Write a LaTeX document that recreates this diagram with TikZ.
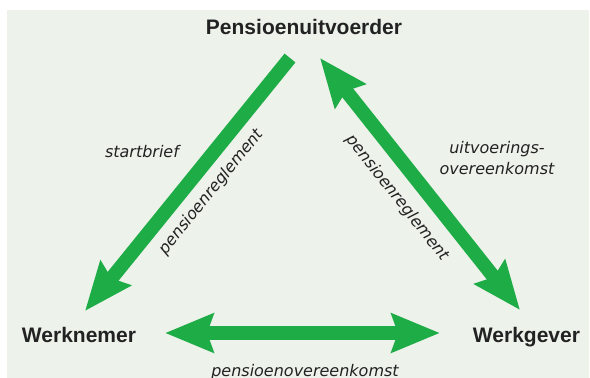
\documentclass[tikz,border=0pt]{standalone}
\usepackage{fontspec}
\setmainfont{Liberation Sans}
\newfontfamily\lblfont{DejaVu Sans}
\usetikzlibrary{arrows.meta,positioning}
\definecolor{pgreen}{RGB}{30,172,70}
\definecolor{pback}{RGB}{237,242,235}
\definecolor{ptext}{RGB}{34,34,34}

\begin{document}
\begin{tikzpicture}[x=1pt,y=1pt,
    party/.style={font=\fontsize{21}{24}\selectfont\bfseries, text=ptext, anchor=base, inner sep=0pt},
    lbl/.style={font=\lblfont\itshape\fontsize{16}{21}\selectfont, text=ptext, inner sep=0pt, align=center},
    tip/.style={Stealth[length=48pt,width=38pt,inset=6pt]},
    flow/.style={draw=pgreen, line width=14pt, -{Stealth[length=48pt,width=38pt,inset=6pt]}},
    both/.style={flow, {Stealth[length=48pt,width=38pt,inset=6pt]}-{Stealth[length=48pt,width=38pt,inset=6pt]}}]
  \useasboundingbox (0,0) rectangle (590,378);
  \fill[pback] (7,0) rectangle (589,368);
  \node[party] (pu) at (304,343) {Pensioenuitvoerder};
  \node[party] (wn) at (79,35) {Werknemer};
  \node[party] (wg) at (526.5,35) {Werkgever};
  \draw[flow] ([shift={(-14,-23)}]pu.base) -- ([shift={(6,32)}]wn.base);
  \draw[both] ([shift={(16,-23)}]pu.base) -- ([shift={(-6.5,33)}]wg.base);
  \draw[both] ([shift={(86,10)}]wn.base) -- ([shift={(-86.5,10)}]wg.base);
  \node[lbl] (sb) at (142,226) {startbrief};
  \node[lbl, rotate=51] (prl) at (211,186) {pensioenreglement};
  \node[lbl, rotate=-51.6] (prr) at (397,180) {pensioenreglement};
  \node[lbl] (uo) at (497,220) {uitvoerings-\\overeenkomst};
  \node[lbl, anchor=base] (po) at (305,1) {pensioenovereenkomst};
\end{tikzpicture}
\end{document}
